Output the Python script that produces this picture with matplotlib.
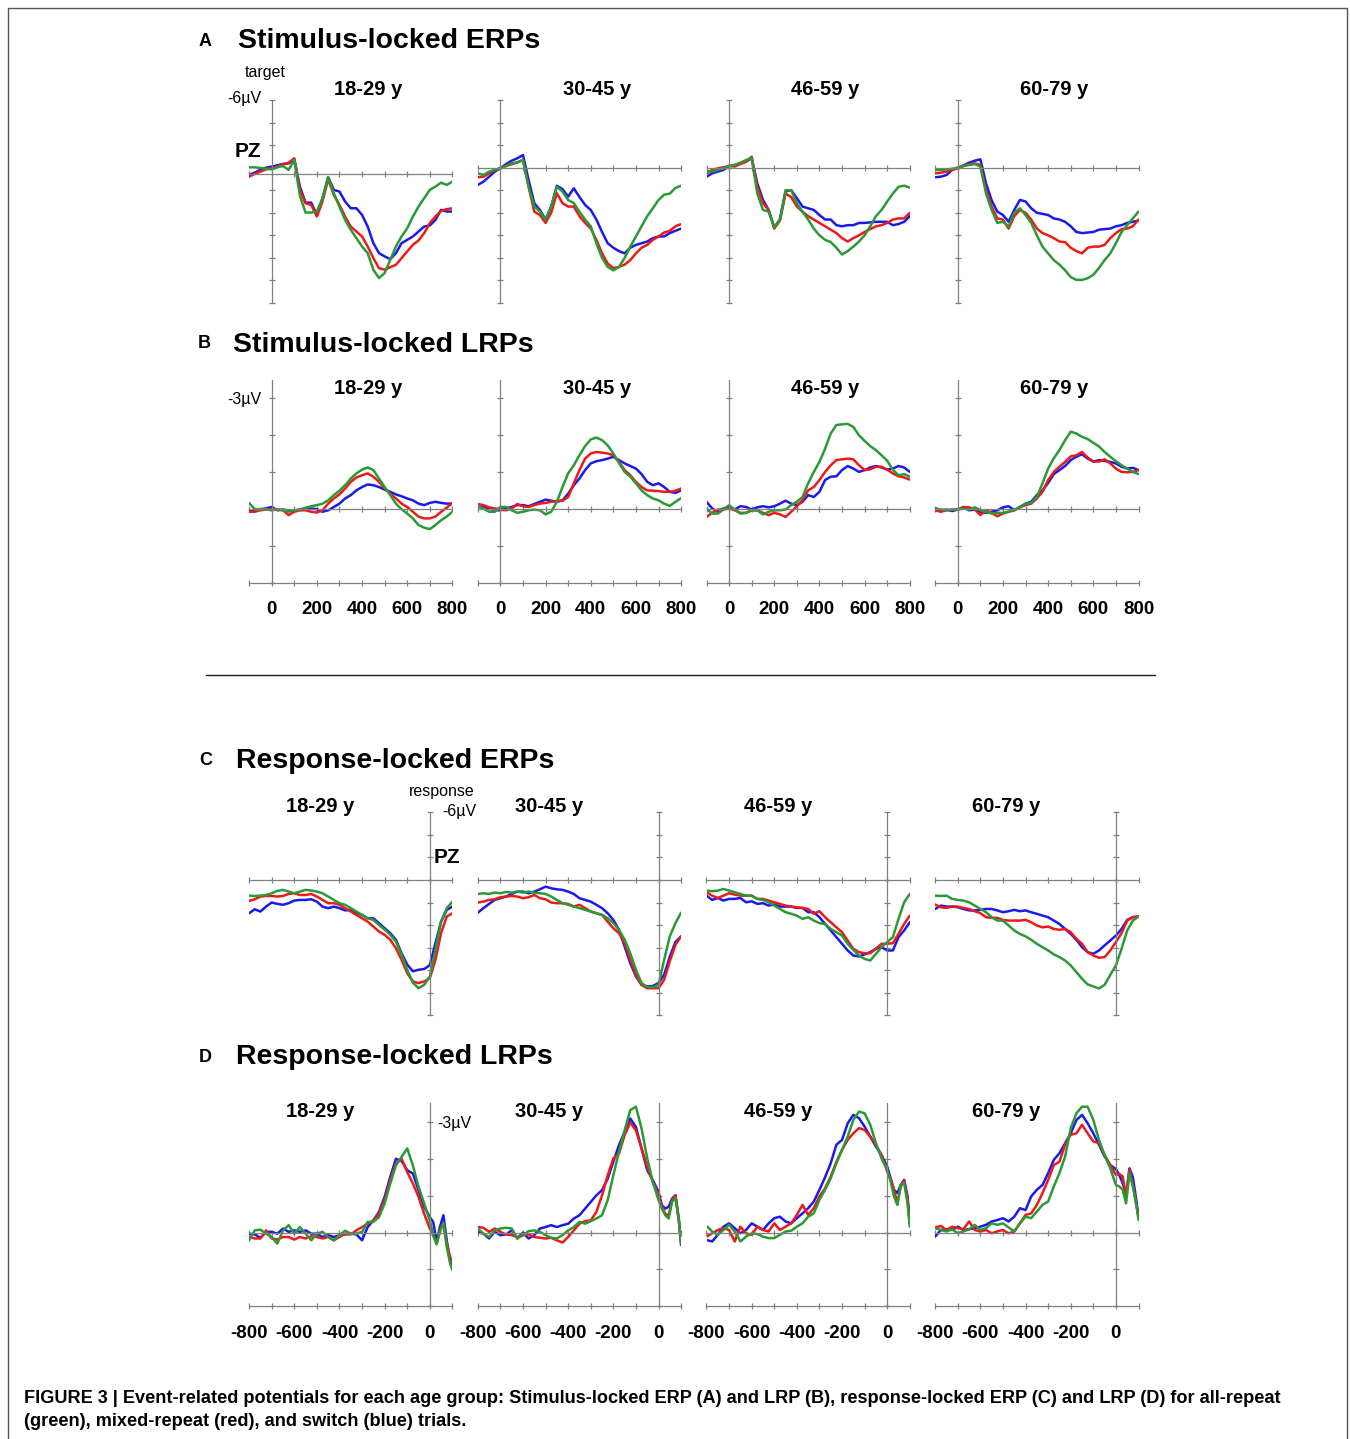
import numpy as np
import matplotlib.pyplot as plt
from matplotlib.lines import Line2D

W, H = 1350, 1439
fig = plt.figure(figsize=(W / 100, H / 100), dpi=100)

#--- data (µV, negative plotted upwards)
ages = ["18-29 y", "30-45 y", "46-59 y", "60-79 y"]
t_stim = np.arange(-100, 801, 25)
t_resp = np.arange(-800, 101, 25)
t_resp_lrp = np.concatenate([np.arange(-800, 0, 25), [0, 15, 30, 45, 60, 75, 90, 100]])

stim_erp_green = [
    [-0.03, -0.03, 0.03, 0.09, 0.15, -0.03, -0.15, 0.2, -0.68, 2.5, 3.98, 3.98, 3.89, 2.71, 0.85, 2.27, 3.45, 4.63, 5.51, 6.25, 6.99, 7.58, 9.05, 9.79, 9.35, 8.17, 6.99, 6.1, 5.37, 4.34, 3.45, 2.71, 1.97, 1.68, 1.33, 1.53, 1.24],
    [0.5, 0.65, 0.35, 0.2, 0.06, -0.15, -0.4, -0.47, -0.68, 1.7, 3.45, 3.9, 4.63, 3.45, 1.68, 2.12, 2.86, 3.15, 3.9, 4.6, 5.2, 6.7, 8.0, 8.8, 9.1, 8.8, 8.0, 7.0, 6.1, 5.2, 4.3, 3.6, 2.86, 2.4, 2.3, 1.8, 1.6],
    [0.35, 0.35, 0.2, 0.06, -0.15, -0.24, -0.44, -0.68, -0.83, 2.3, 3.75, 3.9, 5.3, 4.6, 2.0, 2.0, 3.15, 3.9, 4.6, 5.4, 6.0, 6.4, 6.6, 7.1, 7.7, 7.4, 7.0, 6.55, 6.0, 5.2, 4.3, 3.75, 3.0, 2.3, 1.7, 1.6, 1.77],
    [0.2, 0.2, 0.15, 0.1, 0.0, -0.15, -0.24, -0.32, -0.1, 2.3, 3.75, 4.9, 4.8, 5.2, 4.0, 3.6, 4.2, 4.9, 6.0, 7.0, 7.6, 8.2, 8.6, 9.1, 9.7, 9.95, 9.95, 9.8, 9.5, 8.9, 8.2, 7.6, 6.7, 5.7, 5.1, 4.5, 3.9],
]
stim_erp_red = [
    [0.79, 0.56, 0.35, 0.15, 0.06, -0.09, -0.27, -0.44, -0.83, 1.97, 3.16, 3.3, 4.33, 3.0, 1.03, 2.42, 3.3, 4.33, 5.22, 5.66, 6.1, 6.99, 8.02, 8.91, 9.05, 8.82, 8.61, 8.02, 7.43, 6.84, 6.46, 5.81, 4.92, 4.33, 3.83, 3.68, 3.6],
    [0.85, 0.8, 0.5, 0.2, 0.05, -0.15, -0.3, -0.47, -0.68, 1.7, 3.9, 4.2, 4.9, 4.0, 2.27, 3.15, 3.45, 3.45, 4.3, 4.9, 5.4, 6.4, 7.6, 8.5, 8.9, 8.8, 8.6, 8.2, 7.6, 7.1, 6.85, 6.4, 6.1, 5.75, 5.6, 5.2, 5.0],
    [0.5, 0.2, 0.06, -0.03, -0.15, -0.1, -0.32, -0.53, -0.97, 1.7, 3.15, 3.75, 5.4, 4.7, 2.3, 2.6, 3.45, 3.9, 4.3, 4.6, 4.9, 5.2, 5.5, 5.8, 6.25, 6.55, 6.25, 6.0, 5.7, 5.45, 5.2, 5.1, 4.9, 4.6, 4.5, 4.5, 4.0],
    [0.5, 0.45, 0.35, 0.2, 0.06, -0.15, -0.3, -0.38, -0.24, 2.0, 3.45, 4.5, 4.6, 5.4, 4.3, 3.75, 4.0, 4.6, 5.4, 5.8, 6.0, 6.25, 6.55, 6.6, 7.1, 7.4, 7.6, 7.1, 7.0, 7.0, 6.85, 6.25, 5.8, 5.45, 5.4, 5.2, 4.6],
]
stim_erp_blue = [
    [0.65, 0.44, 0.2, 0.0, -0.09, -0.21, -0.33, -0.38, -0.74, 1.68, 3.1, 3.1, 4.19, 2.71, 0.85, 1.97, 2.12, 3.0, 3.6, 3.6, 4.19, 5.22, 6.69, 7.58, 7.87, 8.11, 7.58, 6.69, 6.4, 6.1, 5.66, 5.22, 5.13, 4.63, 3.74, 3.89, 3.89],
    [1.53, 1.24, 0.8, 0.35, 0.06, -0.32, -0.62, -0.83, -1.12, 1.1, 3.15, 3.75, 4.6, 3.45, 1.6, 1.9, 2.57, 1.83, 2.6, 3.3, 3.75, 4.6, 5.7, 6.7, 7.1, 7.4, 7.6, 7.1, 6.85, 6.7, 6.55, 6.25, 6.1, 6.1, 5.8, 5.6, 5.4],
    [0.8, 0.5, 0.35, 0.2, -0.15, -0.24, -0.38, -0.53, -0.83, 1.4, 2.86, 3.75, 5.3, 4.6, 2.1, 2.0, 2.7, 3.45, 3.6, 3.75, 4.2, 4.6, 4.6, 5.1, 5.2, 5.1, 5.1, 4.9, 4.9, 4.85, 4.8, 4.8, 4.8, 5.1, 5.0, 4.8, 4.3],
    [0.85, 0.8, 0.65, 0.2, 0.0, -0.2, -0.44, -0.62, -0.74, 1.4, 2.9, 3.9, 4.2, 4.8, 3.75, 2.86, 3.0, 3.6, 4.0, 4.1, 4.2, 4.5, 4.6, 4.8, 5.2, 5.7, 5.8, 5.75, 5.7, 5.5, 5.45, 5.4, 5.2, 5.1, 4.9, 4.8, 4.7],
]

stim_lrp_green = [
    [-0.17, 0.0, 0.0, 0.0, 0.03, 0.0, 0.03, 0.07, 0.03, 0.01, -0.04, -0.08, -0.11, -0.15, -0.24, -0.38, -0.50, -0.65, -0.83, -0.97, -1.07, -1.13, -1.06, -0.83, -0.60, -0.38, -0.15, 0.0, 0.12, 0.25, 0.43, 0.50, 0.54, 0.43, 0.30, 0.20, 0.07],
    [-0.08, -0.02, 0.07, 0.07, -0.06, -0.06, 0.03, 0.10, 0.07, 0.03, 0.01, 0.03, 0.14, 0.07, -0.20, -0.60, -0.97, -1.19, -1.46, -1.71, -1.89, -1.94, -1.87, -1.73, -1.51, -1.25, -1.01, -0.88, -0.70, -0.51, -0.38, -0.29, -0.24, -0.15, -0.09, -0.20, -0.30],
    [-0.02, 0.12, 0.12, 0.01, -0.11, 0.01, 0.12, 0.10, 0.03, 0.03, 0.14, 0.07, 0.03, 0.03, 0.01, -0.11, -0.20, -0.33, -0.70, -1.01, -1.28, -1.64, -2.05, -2.28, -2.30, -2.31, -2.23, -2.0, -1.85, -1.71, -1.60, -1.46, -1.31, -1.07, -0.92, -0.95, -0.88],
    [-0.02, 0.01, 0.03, 0.01, 0.01, -0.02, 0.01, -0.05, 0.03, 0.07, 0.12, 0.10, 0.10, 0.07, 0.01, -0.05, -0.14, -0.17, -0.33, -0.70, -1.10, -1.38, -1.60, -1.87, -2.10, -2.05, -1.96, -1.90, -1.80, -1.70, -1.55, -1.42, -1.30, -1.19, -1.10, -1.01, -0.95],
]
stim_lrp_red = [
    [0.07, 0.07, 0.03, 0.01, 0.0, 0.01, 0.03, 0.16, 0.07, 0.03, 0.03, 0.07, 0.09, 0.03, -0.15, -0.29, -0.40, -0.56, -0.74, -0.86, -0.92, -0.97, -0.88, -0.74, -0.56, -0.42, -0.29, -0.15, -0.06, 0.07, 0.20, 0.25, 0.25, 0.20, 0.07, -0.04, -0.17],
    [-0.14, -0.11, -0.05, -0.02, 0.01, 0.03, -0.02, -0.14, -0.08, -0.06, -0.11, -0.15, -0.17, -0.20, -0.22, -0.23, -0.33, -0.70, -1.06, -1.37, -1.51, -1.55, -1.53, -1.51, -1.46, -1.28, -1.06, -0.92, -0.74, -0.60, -0.51, -0.50, -0.49, -0.47, -0.47, -0.50, -0.56],
    [0.21, 0.10, 0.01, 0.01, -0.02, 0.03, 0.10, 0.10, 0.03, 0.03, 0.10, 0.16, 0.10, 0.14, 0.21, 0.07, -0.08, -0.24, -0.51, -0.60, -0.79, -1.01, -1.19, -1.33, -1.35, -1.37, -1.35, -1.19, -1.06, -1.08, -1.15, -1.15, -1.07, -0.97, -0.89, -0.86, -0.80],
    [0.03, 0.07, 0.03, 0.01, 0.01, -0.06, -0.05, 0.01, 0.16, 0.03, 0.10, 0.19, 0.12, 0.07, 0.03, -0.05, -0.11, -0.15, -0.29, -0.47, -0.79, -1.01, -1.15, -1.28, -1.43, -1.46, -1.55, -1.40, -1.29, -1.29, -1.35, -1.24, -1.10, -1.01, -1.00, -1.01, -1.06],
]
stim_lrp_blue = [
    [0.03, 0.03, 0.0, -0.02, -0.06, 0.03, 0.01, 0.03, 0.05, 0.01, -0.02, -0.02, 0.0, 0.07, 0.03, -0.06, -0.15, -0.29, -0.38, -0.51, -0.60, -0.67, -0.65, -0.60, -0.53, -0.47, -0.40, -0.35, -0.29, -0.24, -0.15, -0.11, -0.17, -0.20, -0.17, -0.15, -0.15],
    [-0.06, -0.06, -0.02, 0.03, 0.03, -0.02, -0.06, -0.11, -0.11, -0.08, -0.14, -0.20, -0.26, -0.23, -0.20, -0.24, -0.42, -0.65, -0.83, -1.06, -1.24, -1.30, -1.33, -1.37, -1.42, -1.33, -1.24, -1.17, -1.10, -0.95, -0.74, -0.65, -0.70, -0.60, -0.47, -0.44, -0.51],
    [-0.20, -0.02, 0.07, -0.02, -0.06, 0.01, -0.08, -0.06, 0.01, -0.05, -0.08, -0.05, -0.08, -0.15, -0.23, -0.15, -0.11, -0.20, -0.38, -0.33, -0.47, -0.79, -0.88, -0.89, -1.06, -1.17, -1.10, -1.01, -1.06, -1.13, -1.17, -1.13, -1.07, -1.10, -1.17, -1.13, -1.01],
    [-0.02, 0.03, 0.01, 0.05, 0.01, -0.05, 0.03, 0.01, 0.07, 0.10, 0.07, 0.03, -0.05, -0.08, 0.03, -0.06, -0.15, -0.20, -0.38, -0.51, -0.71, -0.95, -1.06, -1.17, -1.33, -1.42, -1.49, -1.37, -1.29, -1.33, -1.31, -1.28, -1.24, -1.15, -1.10, -1.12, -1.06],
]

resp_erp_green = [
    [1.39, 1.42, 1.39, 1.33, 1.18, 0.97, 0.88, 1.03, 1.18, 1.03, 0.88, 0.94, 1.03, 1.18, 1.47, 1.77, 2.06, 2.2, 2.5, 2.8, 3.1, 3.4, 3.54, 4.0, 4.4, 4.87, 5.46, 6.64, 7.96, 9.1, 9.6, 9.3, 8.55, 6.2, 3.7, 2.5, 1.92],
    [1.24, 1.18, 1.24, 1.12, 1.18, 1.06, 1.12, 1.03, 1.12, 1.03, 1.12, 1.18, 1.24, 1.47, 1.77, 2.06, 2.2, 2.36, 2.5, 2.65, 2.8, 2.95, 3.1, 3.4, 3.83, 4.42, 5.3, 6.5, 7.96, 9.14, 9.5, 9.5, 9.3, 7.08, 5.0, 3.83, 2.9],
    [0.94, 1.0, 0.94, 0.8, 0.94, 1.09, 1.24, 1.39, 1.39, 1.68, 1.77, 1.98, 2.27, 2.57, 2.86, 3.0, 3.16, 3.45, 3.3, 3.6, 3.83, 3.9, 4.34, 4.63, 4.93, 5.66, 6.2, 6.7, 7.0, 7.14, 6.55, 5.96, 5.51, 5.07, 3.45, 1.98, 1.24],
    [1.39, 1.42, 1.39, 1.68, 1.77, 1.83, 1.98, 2.27, 2.57, 2.86, 3.3, 3.6, 3.6, 4.04, 4.48, 4.78, 5.0, 5.3, 5.66, 5.96, 6.25, 6.6, 6.84, 7.14, 7.58, 8.17, 8.76, 9.26, 9.44, 9.62, 9.3, 8.41, 7.58, 6.1, 4.48, 3.6, 3.24],
]
resp_erp_red = [
    [1.86, 1.71, 1.47, 1.42, 1.42, 1.47, 1.42, 1.24, 1.18, 1.33, 1.33, 1.24, 1.47, 1.77, 2.06, 2.06, 2.2, 2.5, 2.8, 3.1, 3.4, 3.7, 4.13, 4.57, 4.87, 5.3, 6.05, 7.08, 8.26, 9.0, 9.14, 9.0, 8.7, 7.08, 4.7, 3.24, 2.95],
    [2.0, 1.92, 1.77, 1.71, 1.53, 1.47, 1.42, 1.47, 1.62, 1.53, 1.33, 1.62, 1.71, 2.0, 2.06, 2.06, 2.12, 2.36, 2.2, 2.5, 2.8, 2.95, 3.1, 3.7, 4.28, 4.72, 5.6, 7.08, 8.4, 9.3, 9.6, 9.6, 9.6, 8.85, 7.2, 5.75, 5.0],
    [1.09, 1.39, 1.6, 1.39, 1.18, 1.3, 1.39, 1.39, 1.39, 1.68, 1.68, 1.83, 1.98, 2.12, 2.27, 2.36, 2.42, 2.48, 2.57, 3.0, 2.77, 3.3, 3.75, 4.2, 4.63, 5.37, 6.1, 6.4, 6.5, 6.5, 6.1, 5.66, 5.66, 5.6, 4.78, 3.9, 3.16],
    [2.18, 2.42, 2.48, 2.36, 2.36, 2.48, 2.57, 2.77, 2.95, 3.3, 3.36, 3.36, 3.54, 3.6, 3.6, 3.6, 3.54, 3.75, 4.04, 4.2, 4.13, 4.34, 4.42, 4.34, 4.63, 5.22, 5.66, 6.4, 6.7, 6.9, 6.84, 6.25, 5.5, 4.72, 3.6, 3.3, 3.24],
]
resp_erp_blue = [
    [2.95, 2.6, 2.8, 2.36, 2.0, 2.12, 2.2, 2.06, 1.83, 1.77, 1.77, 1.71, 1.92, 2.36, 2.5, 2.36, 2.5, 2.7, 2.65, 2.95, 3.1, 3.4, 3.4, 3.83, 4.28, 4.72, 5.3, 6.5, 7.5, 8.1, 7.96, 7.9, 7.55, 5.6, 3.7, 2.65, 2.36],
    [2.9, 2.5, 2.12, 1.77, 1.62, 1.47, 1.24, 1.03, 1.03, 1.18, 1.03, 0.83, 0.59, 0.74, 0.83, 0.88, 1.03, 1.24, 1.62, 1.77, 1.92, 2.2, 2.5, 2.95, 3.54, 4.42, 5.9, 7.37, 8.55, 9.3, 9.44, 9.4, 9.14, 8.4, 6.8, 5.5, 5.0],
    [1.39, 1.77, 1.6, 1.83, 1.68, 1.68, 1.6, 1.98, 1.89, 2.12, 2.06, 2.27, 2.18, 2.36, 2.36, 2.36, 2.48, 2.48, 2.86, 2.86, 3.3, 3.9, 4.48, 5.07, 5.66, 6.25, 6.7, 6.78, 6.6, 6.4, 6.1, 5.96, 6.25, 6.25, 5.07, 4.48, 3.75],
    [2.57, 2.27, 2.36, 2.36, 2.42, 2.57, 2.7, 2.7, 2.65, 2.57, 2.57, 2.7, 2.86, 2.77, 2.65, 2.77, 2.7, 2.86, 3.0, 3.16, 3.3, 3.6, 3.9, 4.34, 4.78, 5.3, 5.96, 6.4, 6.55, 6.25, 5.8, 5.37, 4.93, 4.34, 3.54, 3.3, 3.24],
]

resp_lrp_green = [
    [0.21, -0.06, -0.08, 0.03, 0.12, 0.30, -0.06, -0.20, 0.03, -0.15, 0.03, 0.21, 0.03, -0.02, 0.12, 0.21, 0.07, -0.05, 0.03, 0.03, -0.02, -0.29, -0.29, -0.42, -0.79, -1.33, -1.82, -2.05, -2.28, -1.82, -1.24, -0.79,
     -0.33, 0.07, 0.32, -0.02, -0.26, 0.39, 0.84, 1.02],
    [-0.11, 0.03, 0.12, -0.06, -0.11, -0.13, -0.11, 0.16, 0.07, -0.04, -0.06, -0.02, 0.07, 0.14, 0.16, 0.07, -0.06, -0.15, -0.29, -0.24, -0.31, -0.38, -0.47, -0.88, -1.55, -2.19, -2.77, -3.32, -3.41, -2.82, -2.01, -1.37,
     -0.88, -0.65, -0.47, -0.38, -0.83, -0.94, -0.33, 0.30],
    [-0.18, -0.03, 0.06, -0.07, -0.21, -0.03, 0.24, 0.11, 0.02, 0.04, 0.11, 0.15, 0.15, 0.06, -0.03, -0.05, -0.16, -0.25, -0.43, -0.52, -0.89, -1.16, -1.47, -1.88, -2.24, -2.60, -3.05, -3.28, -3.23, -2.92, -2.42, -2.01,
     -1.70, -1.38, -0.98, -0.75, -1.30, -1.34, -0.79, -0.16],
    [-0.12, -0.07, -0.03, -0.09, 0.02, -0.03, -0.09, -0.21, -0.07, -0.12, -0.25, -0.21, -0.25, -0.14, -0.03, -0.25, -0.43, -0.39, -0.57, -0.75, -0.84, -1.25, -1.61, -2.06, -2.83, -3.23, -3.41, -3.41, -3.05, -2.51, -2.10, -1.74,
     -1.29, -1.25, -1.16, -0.79, -1.61, -1.25, -0.79, -0.34],
]
resp_lrp_red = [
    [0.12, 0.16, 0.16, -0.06, 0.16, 0.19, 0.12, 0.12, 0.19, 0.12, 0.16, 0.10, 0.12, 0.16, 0.12, 0.21, 0.12, 0.03, 0.05, -0.06, -0.15, -0.24, -0.33, -0.51, -0.88, -1.42, -1.87, -2.0, -1.64, -1.33, -0.97, -0.51,
     -0.11, 0.07, 0.30, -0.06, -0.26, 0.30, 0.66, 0.79],
    [-0.15, -0.13, -0.02, -0.11, -0.02, 0.05, 0.07, 0.12, 0.07, 0.05, 0.12, 0.14, 0.16, 0.14, 0.21, 0.27, 0.12, -0.06, -0.24, -0.31, -0.33, -0.56, -1.01, -1.55, -2.01, -2.14, -2.64, -2.98, -2.77, -2.28, -1.78, -1.37,
     -1.01, -0.70, -0.51, -0.47, -0.88, -1.01, -0.38, 0.25],
    [0.11, 0.02, -0.07, -0.12, -0.07, 0.24, -0.16, 0.02, 0.06, -0.16, -0.07, -0.03, -0.25, -0.07, -0.16, -0.25, -0.48, -0.75, -0.48, -0.66, -0.98, -1.20, -1.52, -1.92, -2.24, -2.51, -2.69, -2.83, -2.78, -2.60, -2.38, -2.10,
     -1.65, -1.47, -1.16, -0.79, -1.25, -1.41, -0.89, -0.25],
    [-0.14, -0.18, -0.07, -0.16, -0.12, -0.09, -0.30, -0.07, -0.03, -0.07, 0.02, -0.03, -0.07, 0.02, -0.03, -0.25, -0.48, -0.52, -0.75, -1.07, -1.43, -1.83, -1.92, -2.38, -2.65, -2.69, -2.92, -2.69, -2.47, -2.42, -2.10, -1.83,
     -1.56, -1.59, -1.52, -0.99, -1.70, -1.29, -0.75, -0.43],
]
resp_lrp_blue = [
    [0.03, 0.05, 0.14, -0.02, -0.02, 0.03, -0.11, -0.02, -0.06, -0.02, -0.06, 0.03, 0.03, 0.12, 0.07, 0.12, 0.07, 0.05, 0.03, 0.05, 0.21, -0.15, -0.33, -0.56, -0.97, -1.51, -2.0, -1.94, -1.69, -1.6, -1.15, -0.70,
     -0.42, -0.29, 0.25, -0.15, -0.47, 0.21, 0.75, 0.86],
    [-0.02, 0.03, 0.16, -0.02, 0.07, 0.05, -0.06, 0.16, 0.0, 0.16, 0.07, -0.11, -0.15, -0.20, -0.15, -0.20, -0.24, -0.38, -0.47, -0.65, -0.83, -1.01, -1.15, -1.46, -1.92, -2.37, -2.73, -3.09, -2.86, -2.28, -1.69, -1.42,
     -1.10, -0.74, -0.65, -0.70, -0.92, -1.01, -0.33, 0.34],
    [0.20, 0.24, 0.06, -0.16, -0.25, -0.12, 0.02, -0.07, -0.25, -0.16, -0.07, -0.25, -0.39, -0.43, -0.30, -0.25, -0.39, -0.52, -0.66, -0.84, -1.16, -1.50, -1.88, -2.38, -2.51, -2.96, -3.19, -3.10, -2.87, -2.60, -2.33, -2.10,
     -1.79, -1.47, -1.16, -1.07, -1.29, -1.43, -0.98, -0.30],
    [0.11, -0.07, -0.09, -0.07, -0.16, -0.07, -0.09, -0.12, -0.16, -0.21, -0.30, -0.34, -0.39, -0.30, -0.43, -0.66, -0.61, -0.98, -1.16, -1.29, -1.61, -1.97, -2.15, -2.42, -2.69, -3.05, -3.19, -2.96, -2.69, -2.38, -2.06, -1.83,
     -1.72, -1.56, -1.34, -1.02, -1.74, -1.50, -0.89, -0.43],
]

#--- style
AXIS_GREY = "#808080"
LINE_COLORS = {"blue": "#1a1aee", "red": "#ee1a1a", "green": "#2b9a35"}
SANS = ["Liberation Sans", "DejaVu Sans"]


def px_axes(left, top, width, height):
    return fig.add_axes([left / W, 1 - (top + height) / H, width / W, height / H])


def ftext(x, y, s, **kw):
    kw.setdefault("family", SANS)
    kw.setdefault("va", "baseline")
    fig.text(x / W, 1 - y / H, s, **kw)


def draw_panel(ax, t, series, xlim, ylim, yticks, xticks, labelled, hline=0.0):
    ax.set_xlim(xlim)
    ax.set_ylim(ylim)
    ax.patch.set_visible(False)
    for name in ("blue", "red", "green"):
        ax.plot(t, series[name], color=LINE_COLORS[name], lw=1.8,
                solid_joinstyle="round", solid_capstyle="round")

    for sp in ax.spines.values():
        sp.set_color(AXIS_GREY)
        sp.set_linewidth(0.9)
    ax.spines["right"].set_visible(False)
    ax.spines["left"].set_position(("data", 0))
    ax.set_yticks(yticks)
    ax.set_yticklabels([])
    ax.set_xticks(xticks)
    if labelled:
        # zero line carries ticks too, labels live on the bottom axis
        ax.spines["top"].set_position(("data", 0))
        ax.xaxis.set_ticks_position("both")
        labels = [f"{v:.0f}" if v % 200 == 0 else "" for v in xticks]
        ax.set_xticklabels(labels, fontsize=13.5, fontweight="bold", family=SANS)
        ax.tick_params(axis="x", pad=11)
    else:
        ax.spines["top"].set_visible(False)
        ax.spines["bottom"].set_position(("data", hline))
        ax.set_xticklabels([])
    ax.tick_params(which="both", direction="inout", length=4.5, width=0.9, color=AXIS_GREY)


col_left = [249.1 + 228.7 * i for i in range(4)]
panel_w = 203.3
stim_xticks = np.arange(-100, 801, 100)
resp_xticks = np.arange(-800, 101, 100)
erp_yticks = np.arange(-6, 13, 2)
lrp_yticks = np.arange(-3, 3, 1)

rows = [
    (100.0, t_stim, (stim_erp_green, stim_erp_red, stim_erp_blue), (-100, 800), (12, -6), erp_yticks, stim_xticks, False),
    (380.0, t_stim, (stim_lrp_green, stim_lrp_red, stim_lrp_blue), (-100, 800), (2, -3.5), lrp_yticks, stim_xticks, True),
    (812.3, t_resp, (resp_erp_green, resp_erp_red, resp_erp_blue), (-800, 100), (12, -6), erp_yticks, resp_xticks, False),
    (1103.4, t_resp_lrp, (resp_lrp_green, resp_lrp_red, resp_lrp_blue), (-800, 100), (2, -3.5), lrp_yticks, resp_xticks, True),
]

for r, (top, t, (g, rd, b), xlim, ylim, yt, xt, lab) in enumerate(rows):
    for i in range(4):
        ax = px_axes(col_left[i], top, panel_w, 203.0)
        hline = 0.55 if (r == 0 and i == 0) else 0.0
        draw_panel(ax, t, {"green": g[i], "red": rd[i], "blue": b[i]},
                   xlim, ylim, yt, xt, lab, hline)

#--- headings
ftext(199, 46.5, "A", fontsize=13, fontweight="bold")
ftext(238, 48, "Stimulus-locked ERPs", fontsize=20.5, fontweight="bold")
ftext(198, 348, "B", fontsize=13, fontweight="bold")
ftext(233, 352, "Stimulus-locked LRPs", fontsize=20.5, fontweight="bold")
ftext(199, 765, "C", fontsize=13, fontweight="bold")
ftext(236.5, 768, "Response-locked ERPs", fontsize=20.5, fontweight="bold")
ftext(199, 1062, "D", fontsize=13, fontweight="bold")
ftext(236.5, 1064, "Response-locked LRPs", fontsize=20.5, fontweight="bold")

for i, age in enumerate(ages):
    ftext(368 + 228.7 * i, 95, age, fontsize=14.5, fontweight="bold", ha="center")
    ftext(368 + 228.7 * i, 394.5, age, fontsize=14.5, fontweight="bold", ha="center")
    ftext(320.3 + 228.7 * i, 811.7, age, fontsize=14.5, fontweight="bold", ha="center")
    ftext(320.3 + 228.7 * i, 1117, age, fontsize=14.5, fontweight="bold", ha="center")

#--- scale annotations
ftext(265, 77, "target", fontsize=11.5, ha="center")
ftext(261, 103, "-6µV", fontsize=11.5, ha="right")
ftext(261, 157, "PZ", fontsize=15, fontweight="bold", ha="right")
ftext(261, 404, "-3µV", fontsize=11.5, ha="right")
ftext(442, 796, "response", fontsize=11.5, ha="center")
ftext(476, 816, "-6µV", fontsize=11.5, ha="right")
ftext(434, 863, "PZ", fontsize=15, fontweight="bold", ha="left")
ftext(437, 1128, "-3µV", fontsize=11.5, ha="left")

#--- divider and frame
fig.add_artist(Line2D([206 / W, 1155 / W], [1 - 675 / H, 1 - 675 / H], color="#222222", lw=1.0))
frame_x = [8 / W, 8 / W, 1347 / W, 1347 / W]
frame_y = [0, 1 - 8 / H, 1 - 8 / H, 0]
fig.add_artist(Line2D(frame_x, frame_y, color="#555555", lw=1.0))

#--- caption
ftext(24, 1403, "FIGURE 3 | Event-related potentials for each age group: Stimulus-locked ERP (A) and LRP (B), "
      "response-locked ERP (C) and LRP (D) for all-repeat", fontsize=13.1, fontweight="bold")
ftext(24, 1426, "(green), mixed-repeat (red), and switch (blue) trials.", fontsize=13.1, fontweight="bold")

fig.savefig("out.png", dpi=100)
